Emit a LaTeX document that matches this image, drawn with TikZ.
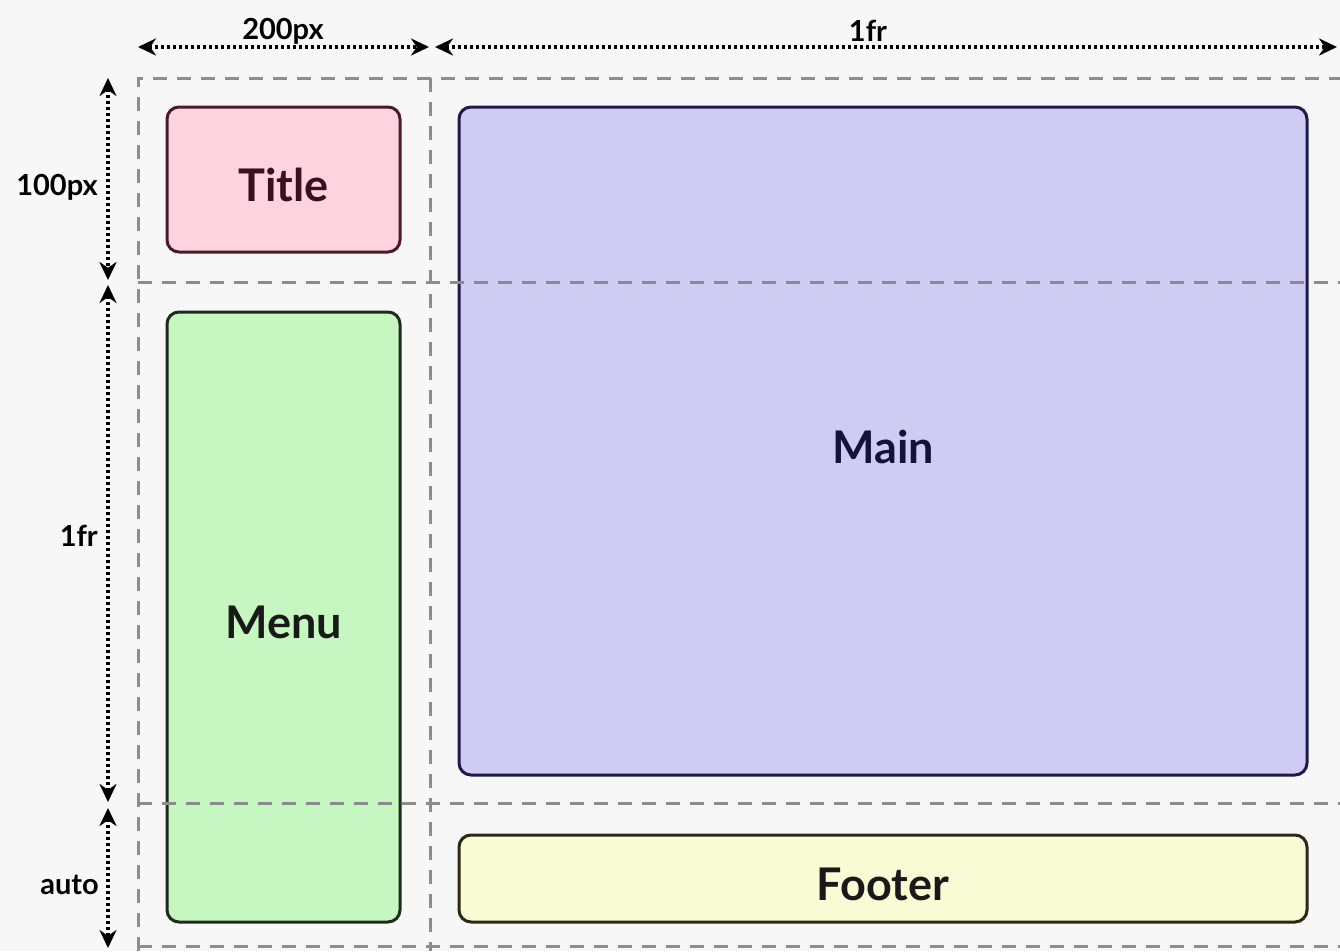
\documentclass[tikz,border=0pt]{standalone}
\usepackage{fontspec}
\setmainfont{Lato}
\usetikzlibrary{arrows.meta}
\definecolor{bg}{HTML}{F7F7F7}
\definecolor{gridgray}{HTML}{8C8C8C}
\definecolor{titlefill}{HTML}{FCD3DE}
\definecolor{titledraw}{HTML}{4A1A2A}
\definecolor{titletext}{HTML}{3A0F1E}
\definecolor{menufill}{HTML}{C6F7C0}
\definecolor{menudraw}{HTML}{1E2A1E}
\definecolor{mainfill}{HTML}{D0CBF3}
\definecolor{maindraw}{HTML}{1E1A4A}
\definecolor{maintext}{HTML}{14123A}
\definecolor{footfill}{HTML}{F8FBD3}
\definecolor{footdraw}{HTML}{2A2A14}
\begin{document}
\begin{tikzpicture}[x=1pt,y=-1pt,
  area/.style={rounded corners=12pt, line width=3pt, inner sep=0pt},
  arealabel/.style={font=\fontsize{45}{50}\selectfont\bfseries, inner sep=0pt},
  gridline/.style={draw=gridgray, line width=3pt, dash pattern=on 14pt off 10pt},
  dimline/.style={line width=3.5pt, dash pattern=on 3pt off 3pt,
    {Stealth[length=18pt,width=17pt]}-{Stealth[length=18pt,width=17pt]}},
  dimlabel/.style={font=\fontsize{29}{32}\selectfont\bfseries, inner sep=1pt}
]
\fill[bg] (0,0) rectangle (1340,951);
\useasboundingbox (0,0) rectangle (1340,951);

% grid areas
\node[area, fill=titlefill, draw=titledraw, minimum width=233pt, minimum height=145pt] (title) at (283.5,179.5) {};
\node[area, fill=menufill, draw=menudraw, minimum width=233pt, minimum height=610pt] (menu) at (283.5,617) {};
\node[area, fill=mainfill, draw=maindraw, minimum width=848pt, minimum height=668pt] (main) at (883,441) {};
\node[area, fill=footfill, draw=footdraw, minimum width=848pt, minimum height=87pt] (footer) at (883,878.5) {};

\node[arealabel, text=titletext, yshift=-5pt] (titlelbl) at (title.center) {Title};
\node[arealabel, text=black!90, yshift=-5pt] (menulbl) at (menu.center) {Menu};
\node[arealabel, text=maintext, yshift=-6pt] (mainlbl) at (main.center) {Main};
\node[arealabel, text=black!90, yshift=-6pt] (footlbl) at (footer.center) {Footer};

% grid lines
\coordinate (h1a) at (138,78);  \coordinate (h1b) at (1340,78);
\coordinate (h2a) at (138,282); \coordinate (h2b) at (1340,282);
\coordinate (h3a) at (138,803); \coordinate (h3b) at (1340,803);
\coordinate (h4a) at (138,946); \coordinate (h4b) at (1340,946);
\coordinate (v1b) at (138,951);
\coordinate (v2a) at (430,78);  \coordinate (v2b) at (430,951);
\draw[gridline] (v1b) -- (h1a) -- (h1b);
\draw[gridline] (h2a) -- (h2b);
\draw[gridline] (h3a) -- (h3b);
\draw[gridline] (h4a) -- (h4b);
\draw[gridline] (v2a) -- (v2b);

% column dimensions
\coordinate (c1a) at (138,47);  \coordinate (c1b) at (429,47);
\coordinate (c2a) at (435,47);  \coordinate (c2b) at (1337,47);
\draw[dimline] (c1a) -- (c1b);
\draw[dimline] (c2a) -- (c2b);
\node[dimlabel, fill=bg] (w1) at (283,31) {200px};
\node[dimlabel, fill=bg] (w2) at (868,31) {1fr};

% row dimensions
\coordinate (r1a) at (108,78);  \coordinate (r1b) at (108,280);
\coordinate (r2a) at (108,285); \coordinate (r2b) at (108,802);
\coordinate (r3a) at (108,808); \coordinate (r3b) at (108,948);
\draw[dimline] (r1a) -- (r1b);
\draw[dimline] (r2a) -- (r2b);
\draw[dimline] (r3a) -- (r3b);
\node[dimlabel, anchor=east, fill=bg] (h1) at (99,187) {100px};
\node[dimlabel, anchor=east, fill=bg] (h2) at (99,536) {1fr};
\node[dimlabel, anchor=east, fill=bg] (h3) at (100,885) {auto};
\end{tikzpicture}
\end{document}
